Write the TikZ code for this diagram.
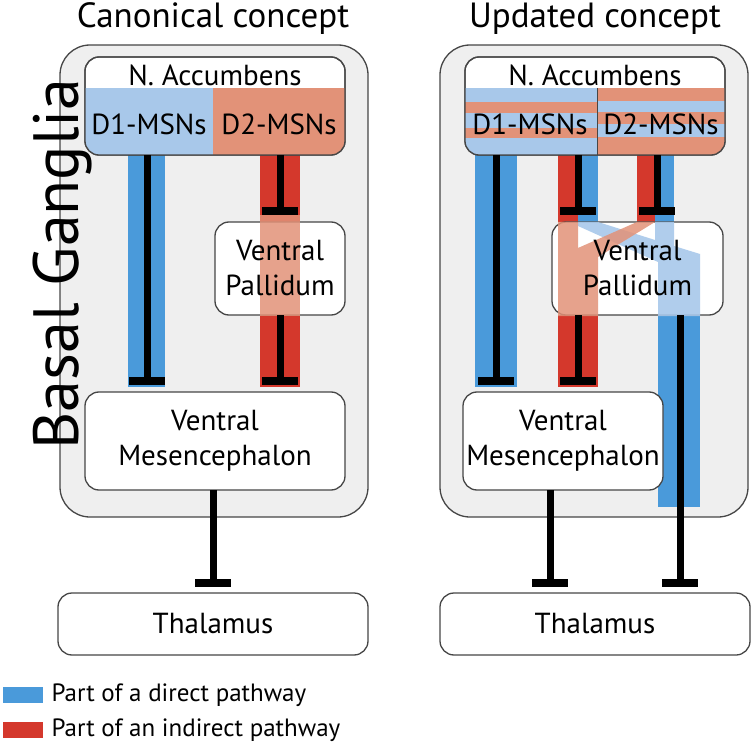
\documentclass[tikz,border=0pt]{standalone}
\usepackage{fontspec}
\setmainfont{PT Sans}
\usetikzlibrary{arrows.meta}
\usetikzlibrary{positioning}
\definecolor{dblue}{RGB}{74,154,218}
\definecolor{lblue}{RGB}{168,200,234}
\definecolor{dred}{RGB}{212,56,44}
\definecolor{salmon}{RGB}{226,146,120}
\definecolor{bggray}{RGB}{239,239,239}
\definecolor{edge}{RGB}{70,70,70}
\tikzset{
  panel/.style={draw=edge, line width=1.3pt, fill=bggray, rounded corners=30pt, inner sep=0pt, outer sep=0pt},
  region/.style={draw=edge, line width=1.3pt, fill=white, rounded corners=14pt, inner sep=0pt, outer sep=0pt, align=center, font=\fontsize{29}{35}\selectfont},
  label/.style={align=center, font=\fontsize{29}{35}\selectfont},
  inhib/.style={line width=7pt, -{Rectangle[length=8pt,width=36pt]}},
}
\begin{document}
\begin{tikzpicture}[x=1pt,y=-1pt]
\useasboundingbox (0,0) rectangle (753,749);
\node[anchor=base, font=\fontsize{35}{40}\selectfont] (titleL) at (213,28) {Canonical concept};
\node[anchor=base, font=\fontsize{35}{40}\selectfont] (titleR) at (595,28) {Updated concept};
\node[panel, minimum width=308, minimum height=472] (bgL) at (214,281) {};
\node[panel, minimum width=308, minimum height=472] (bgR) at (594,281) {};
\node[rotate=90, anchor=base, font=\fontsize{64}{70}\selectfont] (bg) at (78,264) {Basal Ganglia};

% canonical
\coordinate (d1L) at (147,0);
\coordinate (d2L) at (280,0);
\fill[dblue] (128,155) rectangle (165,387);
\fill[dred] (260,155) rectangle (300,387);
\node[region, minimum width=260, minimum height=98] (naccL) at (215,106) {};
\begin{scope}
\clip[rounded corners=14pt] (naccL.north west) rectangle (naccL.south east);
\fill[lblue] (85,88) rectangle (213,160);
\fill[salmon] (213,88) rectangle (350,160);
\end{scope}
\draw[edge, line width=1.3pt, rounded corners=14pt] (naccL.north west) rectangle (naccL.south east);
\node[label] (naL) at (215,75) {N. Accumbens};
\node[label] (msn1L) at (149,124) {D1-MSNs};
\node[label] (msn2L) at (279,124) {D2-MSNs};
\node[region, minimum width=130, minimum height=93] (vpL) at (280,268.5) {};
\fill[salmon, opacity=.85] (260,215) rectangle (300,316);
\node[label] (vptL) at (vpL) {Ventral\\Pallidum};
\node[region, minimum width=260, minimum height=98] (vmL) at (215,441) {Ventral\\Mesencephalon};
\node[region, minimum width=310, minimum height=62] (thL) at (213,624) {Thalamus};
\draw[inhib] (naccL.south -| d1L) -- ([yshift=7pt]vmL.north -| d1L);
\draw[inhib] (naccL.south -| d2L) -- ([yshift=7pt]vpL.north -| d2L);
\draw[inhib] (vpL.south -| d2L) -- ([yshift=7pt]vmL.north -| d2L);
\draw[inhib] (vmL.south -| thL) -- ([yshift=6pt]thL.north);

% updated
\coordinate (s1R) at (496,0);
\coordinate (s2R) at (578,0);
\coordinate (s3R) at (657,0);
\coordinate (s4R) at (680,0);
\coordinate (s5R) at (550,0);
\fill[dblue] (475,155) rectangle (517,387);
\fill[dred] (558,155) rectangle (578,222);
\fill[dblue] (578,155) rectangle (598,222);
\fill[dred] (637,155) rectangle (655,222);
\fill[dblue] (655,155) rectangle (674,222);
\fill[dred] (558,315) rectangle (598,387);
\fill[dblue] (658,315) rectangle (700,507);
\node[region, minimum width=260, minimum height=98] (naccR) at (595,106) {};
\begin{scope}
\clip[rounded corners=14pt] (naccR.north west) rectangle (naccR.south east);
\fill[lblue] (460,88) rectangle (597,160);
\fill[salmon] (460,102) rectangle (597,113);
\fill[salmon] (460,128) rectangle (597,138);
\fill[salmon] (597,88) rectangle (730,160);
\fill[lblue] (597,101) rectangle (730,112);
\fill[lblue] (597,124) rectangle (730,137);
\end{scope}
\draw[edge, line width=.8pt] (597,88) -- (597,155);
\draw[edge, line width=1.3pt, rounded corners=14pt] (naccR.north west) rectangle (naccR.south east);
\node[label] (naR) at (595,75) {N. Accumbens};
\node[label] (msn1R) at (530,124) {D1-MSNs};
\node[label] (msn2R) at (661,124) {D2-MSNs};
\node[region, minimum width=171, minimum height=93] (vpR) at (637.5,268.5) {};
\fill[lblue, opacity=.9] (578,222) -- (598,222) -- (655,240) -- (655,222) -- (674,222) -- (674,246) -- (700,254) -- (700,316) -- (658,316) -- (658,262) -- (578,226) -- cycle;
\fill[salmon, opacity=.85] (558,222) -- (578,222) -- (578,248) -- (637,222) -- (655,222) -- (598,257) -- (598,316) -- (558,316) -- cycle;
\node[label] (vptR) at (vpR) {Ventral\\Pallidum};
\node[region, minimum width=200, minimum height=98] (vmR) at (563,441) {Ventral\\Mesencephalon};
\node[region, minimum width=310, minimum height=62] (thR) at (595,624) {Thalamus};
\draw[inhib] (naccR.south -| s1R) -- ([yshift=7pt]vmR.north -| s1R);
\draw[inhib] (naccR.south -| s2R) -- ([yshift=7pt]vpR.north -| s2R);
\draw[inhib] (naccR.south -| s3R) -- ([yshift=7pt]vpR.north -| s3R);
\draw[inhib] (vpR.south -| s2R) -- ([yshift=7pt]vmR.north -| s2R);
\draw[inhib] (vpR.south -| s4R) -- ([yshift=6pt]thR.north -| s4R);
\draw[inhib] (vmR.south -| s5R) -- ([yshift=6pt]thR.north -| s5R);

% legend
\fill[dblue] (3,687) rectangle (43,703);
\fill[dred] (3,722) rectangle (43,738);
\node[anchor=west, font=\fontsize{25}{30}\selectfont] (legdir) at (48,695) {Part of a direct pathway};
\node[anchor=west, font=\fontsize{25}{30}\selectfont] (legind) at (48,730) {Part of an indirect pathway};
\end{tikzpicture}
\end{document}
